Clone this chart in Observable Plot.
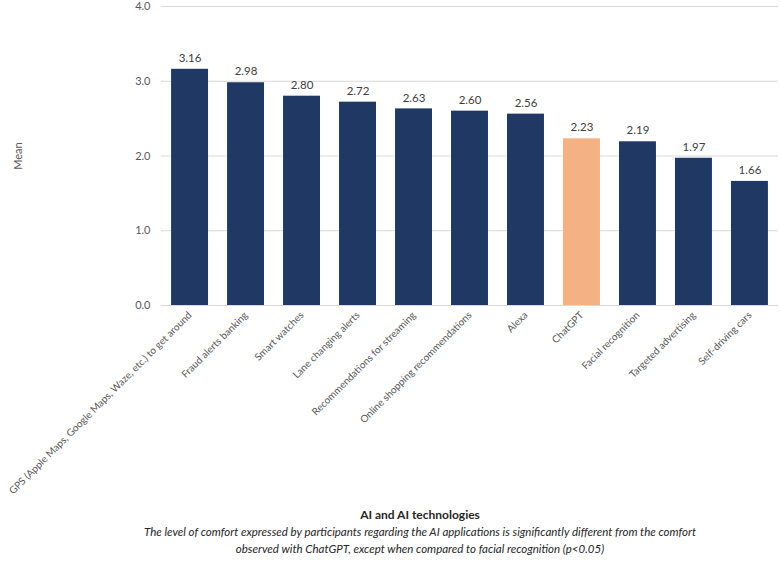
<!DOCTYPE html>
<html>
<head>
<meta charset="utf-8">
<script src="https://cdn.jsdelivr.net/npm/d3@7"></script>
<script src="https://cdn.jsdelivr.net/npm/@observablehq/plot@0.6"></script>
<style>
  body { margin: 0; background: #fff; font-family: Lato, "Open Sans", sans-serif; }
  #wrap { width: 780px; }
  .title { text-align: center; padding-left: 60px; font-weight: bold; font-size: 12px; color: #262626; margin-top: 7px; line-height: 16px; }
  .caption { text-align: center; padding-left: 60px; font-style: italic; font-size: 11.5px; color: #262626; line-height: 17px; }
</style>
</head>
<body>
<div id="wrap"></div>
<script>
const categories = [
  "GPS (Apple Maps, Google Maps, Waze, etc.) to get around",
  "Fraud alerts banking",
  "Smart watches",
  "Lane changing alerts",
  "Recommendations for streaming",
  "Online shopping recommendations",
  "Alexa",
  "ChatGPT",
  "Facial recognition",
  "Targeted advertising",
  "Self-driving cars"
];
const means = [3.16, 2.98, 2.80, 2.72, 2.63, 2.60, 2.56, 2.23, 2.19, 1.97, 1.66];
const highlighted = ["ChatGPT"];
const yTicks = [0, 1, 2, 3, 4];
const titleText = "AI and AI technologies";
const captionLines = [
  "The level of comfort expressed by participants regarding the AI applications is significantly different from the comfort",
  "observed with ChatGPT, except when compared to facial recognition (p<0.05)"
];

const data = categories.map((c, i) => ({category: c, mean: means[i], hi: highlighted.includes(c)}));

const chart = Plot.plot({
  width: 780,
  height: 500,
  marginTop: 6,
  marginBottom: 195,
  marginLeft: 161,
  marginRight: 2,
  style: {fontFamily: "Lato, 'Open Sans', sans-serif", fontSize: "11px", color: "#595959", background: "#fff"},
  x: {domain: categories, paddingInner: 0.34, paddingOuter: 0.18, round: false, label: null},
  y: {domain: [0, 4], label: null},
  marks: [
    Plot.gridY(yTicks, {stroke: "#d9d9d9", strokeOpacity: 1}),
    Plot.barY(data, {x: "category", y: "mean", fill: d => d.hi ? "#F4B183" : "#1F3864"}),
    Plot.text(data, {x: "category", y: "mean", text: d => d.mean.toFixed(2), dy: -11, fill: "#404040", fontSize: 11.5}),
    Plot.axisY({ticks: yTicks, tickFormat: d => d.toFixed(1), tickSize: 0, tickPadding: 11, fill: "#595959", fontSize: 11,
      label: "Mean", labelAnchor: "center", labelArrow: "none", labelOffset: 147}),
    Plot.axisX({tickSize: 0, tickRotate: -45, tickPadding: 8, fill: "#595959", fontSize: 10, label: null, lineWidth: 100})
  ]
});

const wrap = document.getElementById("wrap");
wrap.appendChild(chart);
const t = document.createElement("div");
t.className = "title";
t.textContent = titleText;
wrap.appendChild(t);
const c = document.createElement("div");
c.className = "caption";
captionLines.forEach((line, i) => {
  if (i) c.appendChild(document.createElement("br"));
  c.appendChild(document.createTextNode(line));
});
wrap.appendChild(c);
</script>
</body>
</html>
